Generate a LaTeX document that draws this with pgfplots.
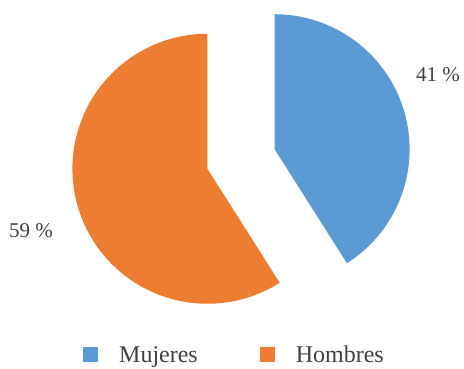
\documentclass[border=0pt]{standalone}
\usepackage{fontspec}
\setmainfont{Liberation Serif}
\usepackage{pgfplots}
\usepackage{pgfplotstable}
\pgfplotsset{compat=1.18}
\definecolor{cblue}{HTML}{5B9BD5}
\definecolor{corange}{HTML}{ED7D31}
\definecolor{ctext}{HTML}{404040}
\pgfplotstableread{
label value
Mujeres 41
Hombres 59
}\piedata
\begin{document}%
\begin{tikzpicture}
\pgfplotstablegetelem{0}{value}\of\piedata \let\va\pgfplotsretval
\pgfplotstablegetelem{1}{value}\of\piedata \let\vb\pgfplotsretval
\pgfmathsetmacro{\R}{135}
\pgfmathsetmacro{\cx}{241}
\pgfmathsetmacro{\cy}{210}
\pgfmathsetmacro{\ex}{35}
\pgfmathsetmacro{\aS}{90-3.6*\va}
\pgfmathsetmacro{\aE}{90}
\pgfmathsetmacro{\bS}{90}
\pgfmathsetmacro{\bE}{90+3.6*\vb}
\pgfmathsetmacro{\ma}{(\aS+\aE)/2}
\pgfmathsetmacro{\mb}{(\bS+\bE)/2}
\pgfmathsetmacro{\ax}{\cx+\ex*cos(\ma)}
\pgfmathsetmacro{\ay}{\cy+\ex*sin(\ma)}
\pgfmathsetmacro{\bx}{\cx+\ex*cos(\mb)}
\pgfmathsetmacro{\by}{\cy+\ex*sin(\mb)}
\begin{axis}[
  scale only axis, width=464pt, height=369pt,
  xmin=0, xmax=464, ymin=0, ymax=369,
  hide axis, clip=false,
  legend columns=2,
  legend style={draw=none, fill=none, at={(axis cs:234.5,14)}, anchor=center,
    font=\fontsize{24}{28}\selectfont, text=ctext,
    /tikz/every even column/.append style={column sep=60pt},
    cells={anchor=west}, inner sep=0pt},
  legend image code/.code={\fill[#1] (0pt,-7.5pt) rectangle (15pt,7.5pt);},
]
\addplot[draw=none, fill=cblue, domain=\aS:\aE, samples=120, variable=\t]
  ({\ax+\R*cos(\t)}, {\ay+\R*sin(\t)}) -- (axis cs:\ax,\ay) -- cycle;
\addlegendentry{\hspace{19pt}Mujeres}
\addplot[draw=none, fill=corange, domain=\bS:\bE, samples=160, variable=\t]
  ({\bx+\R*cos(\t)}, {\by+\R*sin(\t)}) -- (axis cs:\bx,\by) -- cycle;
\addlegendentry{\hspace{19pt}Hombres}
\node[text=ctext, font=\fontsize{21}{24}\selectfont] at (axis cs:438,294) {\va~\%};
\node[text=ctext, font=\fontsize{21}{24}\selectfont] at (axis cs:31,138) {\vb~\%};
\path (rel axis cs:0,0) (rel axis cs:1,1);
\end{axis}
\end{tikzpicture}%
\end{document}
